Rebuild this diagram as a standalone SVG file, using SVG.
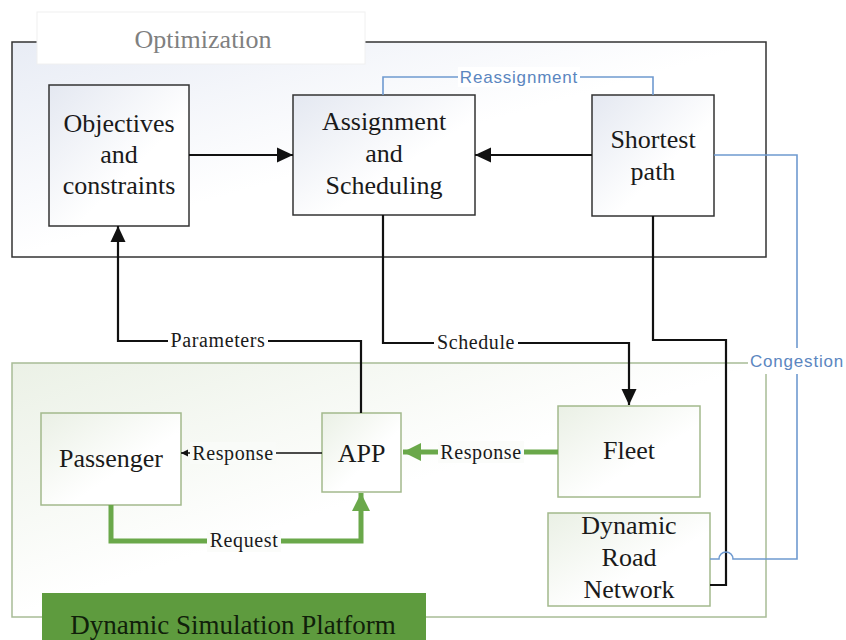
<svg xmlns="http://www.w3.org/2000/svg" width="846" height="640" viewBox="0 0 846 640">
<style>
.big{font-family:"Liberation Serif","Times New Roman",serif;font-size:26px;fill:#1a1a1a;text-anchor:middle}
.lbl{font-family:"Liberation Serif","Times New Roman",serif;font-size:20px;letter-spacing:0.6px;fill:#1a1a1a;text-anchor:middle}
.blbl{font-family:"Liberation Sans",Arial,sans-serif;font-size:17px;letter-spacing:0.8px;fill:#5b86c0;text-anchor:middle}
.onode{stroke:#333;stroke-width:1.5;fill:url(#gBlue)}
.gnode{stroke:#a3b98c;stroke-width:1.5;fill:url(#gGreen)}
.blk{fill:none;stroke:#111;stroke-width:2.2}
.grn{fill:none;stroke:#6aa84a;stroke-width:5}
.blu{fill:none;stroke:#6f9ad0;stroke-width:1.6}
.bg{fill:#fff}
</style>
<defs>
<linearGradient id="gBlue" x1="0" y1="0" x2="1" y2="1">
<stop offset="0" stop-color="#e4e8f1"/><stop offset="0.6" stop-color="#ffffff"/>
</linearGradient>
<linearGradient id="gOpt" x1="0" y1="0" x2="1" y2="1">
<stop offset="0" stop-color="#e8ecf5"/><stop offset="0.5" stop-color="#ffffff"/>
</linearGradient>
<linearGradient id="gGreen" x1="0" y1="0" x2="1" y2="1">
<stop offset="0" stop-color="#eaf0e5"/><stop offset="0.6" stop-color="#ffffff"/>
</linearGradient>
<linearGradient id="gSim" x1="0" y1="0" x2="1" y2="1">
<stop offset="0" stop-color="#ebf1e6"/><stop offset="0.5" stop-color="#ffffff"/>
</linearGradient>
<marker id="aBlk" markerUnits="userSpaceOnUse" markerWidth="18" markerHeight="18" refX="16" refY="9" orient="auto">
<path d="M0,1.5 L16,9 L0,16.5 Z" fill="#111"/>
</marker>
<marker id="aSmall" markerUnits="userSpaceOnUse" markerWidth="8" markerHeight="8" refX="7" refY="4" orient="auto">
<path d="M0,0.5 L7,4 L0,7.5 Z" fill="#111"/>
</marker>
<marker id="aGrn" markerUnits="userSpaceOnUse" markerWidth="20" markerHeight="20" refX="18" refY="10" orient="auto">
<path d="M0,1 L18,10 L0,19 Z" fill="#6aa84a"/>
</marker>
</defs>

<g id="optimization">
<rect x="12" y="42" width="754" height="215" fill="url(#gOpt)" stroke="#333" stroke-width="1.5"/>
<rect x="37" y="12" width="328" height="52" fill="#fff" stroke="#f0f0f0" stroke-width="1"/>
<text class="big" x="203" y="48" style="fill:#808080">Optimization</text>
</g>

<g id="simulation">
<rect x="12" y="363" width="754" height="254" fill="url(#gSim)" stroke="#a8bc96" stroke-width="1.5"/>
<rect x="42" y="593" width="384" height="47" fill="#5e9b3e"/>
<text class="big" x="233" y="634" style="font-size:27px;fill:#10200a">Dynamic Simulation Platform</text>
</g>

<g id="objectives">
<rect class="onode" x="49" y="85" width="140" height="141"/>
<text class="big" x="119" y="132">Objectives</text>
<text class="big" x="119" y="163">and</text>
<text class="big" x="119" y="194">constraints</text>
</g>

<g id="assignment">
<rect class="onode" x="293" y="95" width="182" height="120"/>
<text class="big" x="384" y="130">Assignment</text>
<text class="big" x="384" y="162">and</text>
<text class="big" x="384" y="194">Scheduling</text>
</g>

<g id="shortest">
<rect class="onode" x="592" y="95" width="122" height="121"/>
<text class="big" x="653" y="148">Shortest</text>
<text class="big" x="653" y="180">path</text>
</g>

<g id="passenger">
<rect class="gnode" x="41" y="413" width="140" height="92"/>
<text class="big" x="111" y="467">Passenger</text>
</g>

<g id="app">
<rect class="gnode" x="322" y="413" width="79" height="79"/>
<text class="big" x="361.5" y="462">APP</text>
</g>

<g id="fleet">
<rect class="gnode" x="558" y="406" width="142" height="91"/>
<text class="big" x="629" y="459">Fleet</text>
</g>

<g id="roadnetwork">
<rect class="gnode" x="548" y="513" width="162" height="93"/>
<text class="big" x="629" y="534">Dynamic</text>
<text class="big" x="629" y="566">Road</text>
<text class="big" x="629" y="598">Network</text>
</g>

<g id="connectors">
<line class="blk" x1="189" y1="155" x2="293" y2="155" marker-end="url(#aBlk)"/>
<line class="blk" x1="592" y1="155" x2="475" y2="155" marker-end="url(#aBlk)"/>

<path class="blk" d="M361,413 V341 H118 V226" marker-end="url(#aBlk)"/>
<rect class="bg" x="168" y="331" width="100" height="20"/>
<text class="lbl" x="218" y="347">Parameters</text>

<path class="blk" d="M383,215 V343 H629 V405" marker-end="url(#aBlk)"/>
<rect class="bg" x="434" y="333" width="84" height="20"/>
<text class="lbl" x="476" y="349">Schedule</text>

<path class="blk" d="M653,216 V340 H726 V585 H710"/>

<path class="blu" d="M383,95 V77 H653 V95"/>
<rect class="bg" x="458" y="67" width="122" height="20"/>
<text class="blbl" x="519" y="83">Reassignment</text>

<path class="blu" d="M714,155 H797 V559 H733 A7,7 0 0 0 719,559 H710"/>
<rect class="bg" x="748" y="348" width="98" height="26"/>
<text class="blbl" x="797" y="367">Congestion</text>

<line x1="322" y1="453" x2="181" y2="453" stroke="#111" stroke-width="1.5" marker-end="url(#aSmall)"/>
<rect x="190" y="442" width="86" height="22" fill="#f9fbf8"/>
<text class="lbl" x="233" y="460">Response</text>

<line class="grn" x1="558" y1="452" x2="403" y2="452" marker-end="url(#aGrn)"/>
<rect x="438" y="441" width="86" height="22" fill="#fbfcfa"/>
<text class="lbl" x="481" y="459">Response</text>

<path class="grn" d="M111,505 V541 H361 V493" marker-end="url(#aGrn)"/>
<rect x="207" y="530" width="74" height="22" fill="#fbfcfa"/>
<text class="lbl" x="244" y="547">Request</text>
</g>
</svg>
